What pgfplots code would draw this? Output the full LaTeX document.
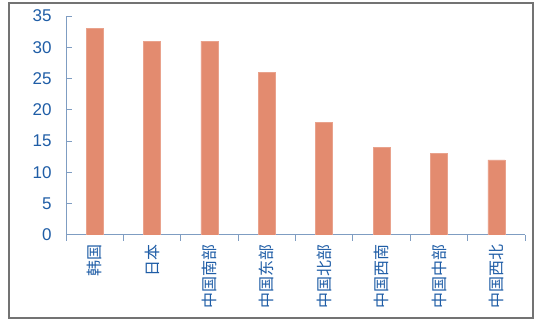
\documentclass[border=0pt]{standalone}
\usepackage{pgfplots}
\pgfplotsset{compat=1.18}
\usepackage{fontspec}
\setmainfont{Liberation Sans}
\newfontfamily\cjk{Noto Sans CJK SC}
\definecolor{barc}{HTML}{E38B6F}
\definecolor{tickc}{HTML}{1F5DA6}
\definecolor{axc}{HTML}{7F9DC2}
\begin{document}
\begin{tikzpicture}[x=1pt,y=1pt]
\path (0,0) rectangle (544,324);
\draw[black!55, line width=1.2pt] (9,6) rectangle (533,321);
\begin{axis}[
  at={(66pt,89pt)}, anchor=south west,
  scale only axis, width=459pt, height=219pt,
  xmin=-0.5, xmax=7.5, ymin=0, ymax=35,
  axis lines=left, axis line style={-, draw=axc, line width=1pt},
  tick align=inside, major tick length=6pt, minor tick length=6pt,
  tick style={draw=axc, line width=1pt},
  xtick={0,...,7},
  xticklabels={韩国,日本,中国南部,中国东部,中国北部,中国西南,中国中部,中国西北},
  major x tick style={draw=none},
  minor xtick={-0.5,0.5,...,7.5},
  xticklabel style={font=\cjk\fontsize{16}{19}\selectfont, rotate=90, anchor=east, text=tickc},
  ytick={0,5,...,35},
  yticklabel style={font=\fontsize{17}{20}\selectfont, text=tickc, xshift=-11pt},
  /pgf/number format/assume math mode=true,
  ybar, bar width=17pt,
]
\addplot[fill=barc, draw=barc!80!white] coordinates {(0,33) (1,31) (2,31) (3,26) (4,18) (5,14) (6,13) (7,12)};
\end{axis}
\end{tikzpicture}
\end{document}
